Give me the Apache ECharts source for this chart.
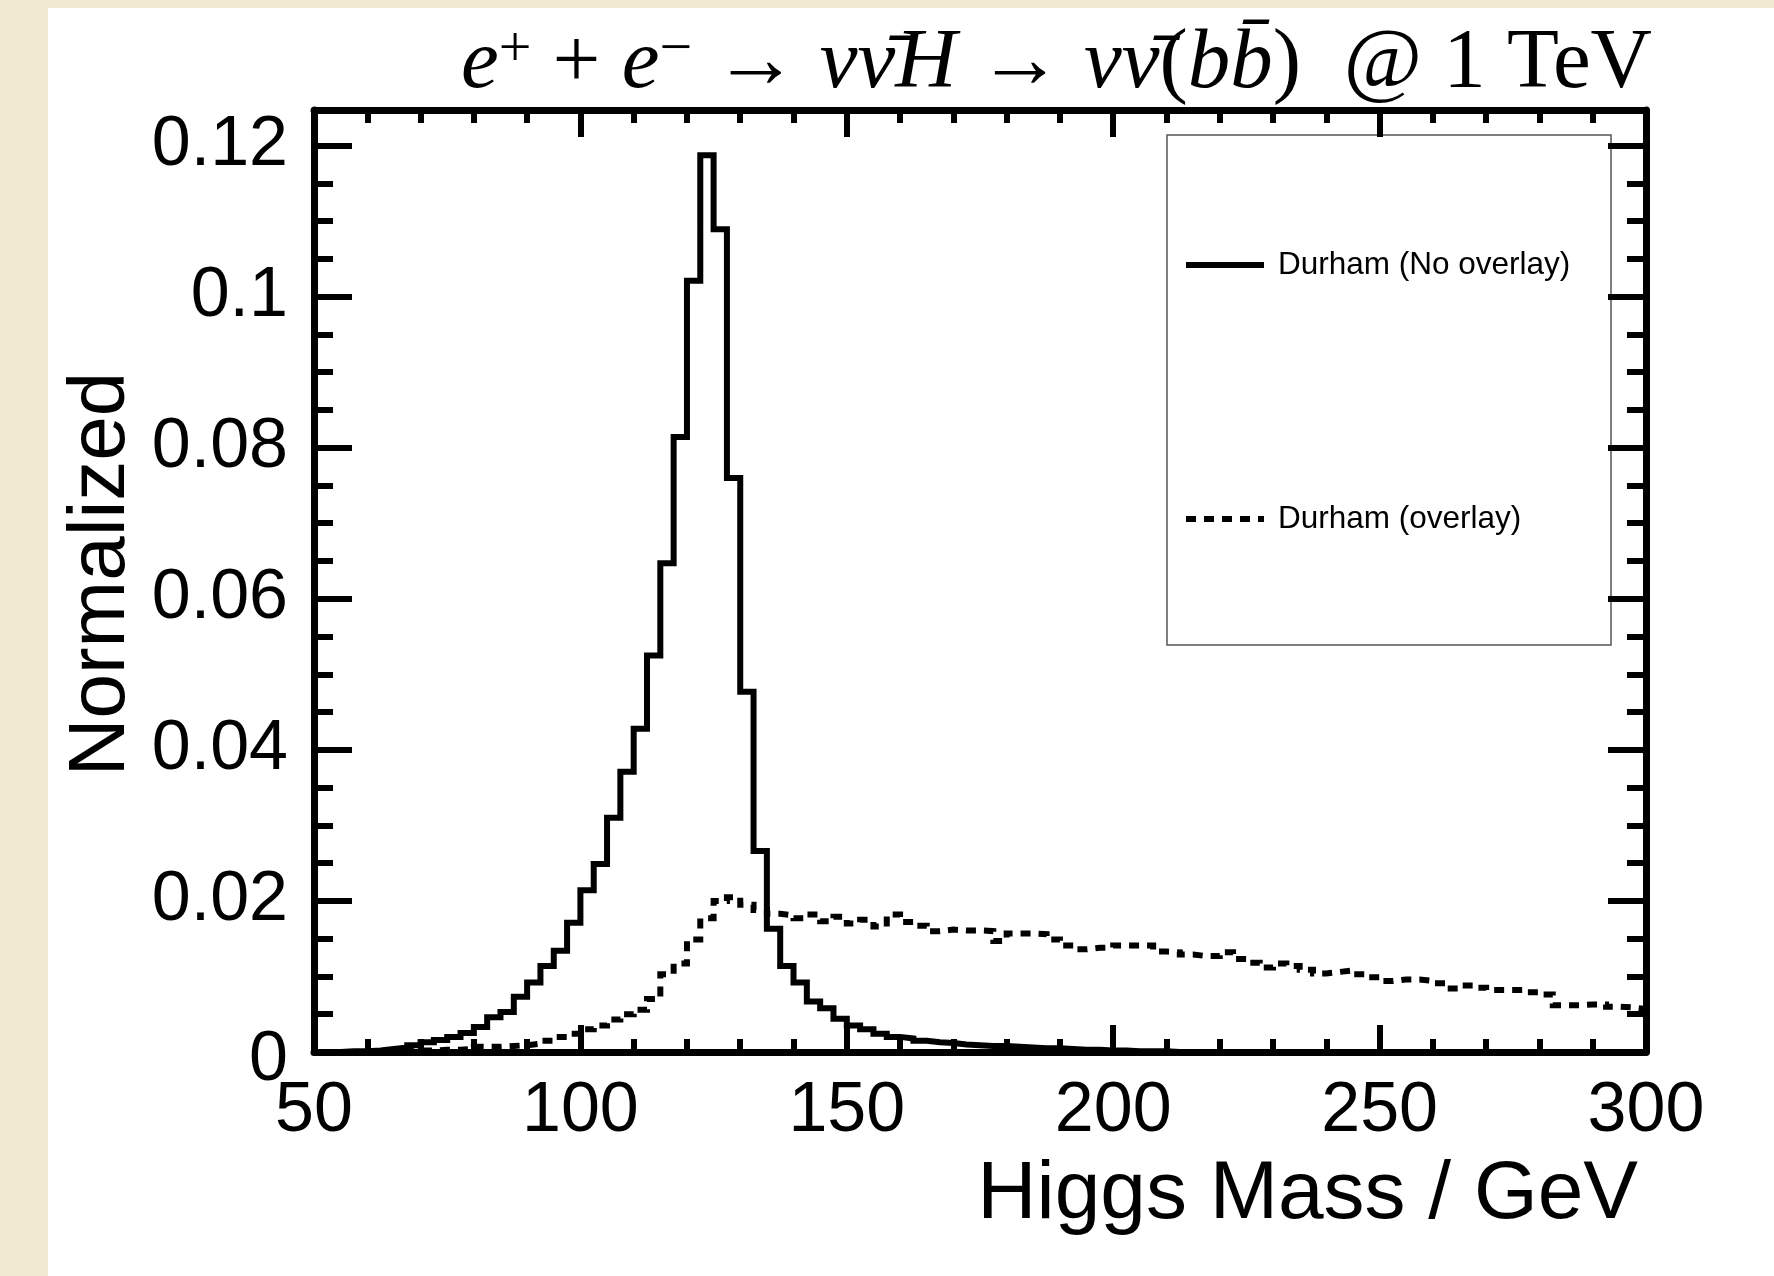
<!DOCTYPE html>
<html>
<head>
<meta charset="utf-8">
<script src="https://cdn.jsdelivr.net/npm/echarts@6/dist/echarts.min.js"></script>
<style>
html,body{margin:0;padding:0;background:#fff;}
#c{width:1774px;height:1276px;}
</style>
</head>
<body>
<div id="c"></div>
<script>
// ---- data ----
const BIN_MIN = 50;          // GeV, lower edge of first bin
const BIN_WIDTH = 2.5;       // GeV
const seriesNames = ['Durham (No overlay)', 'Durham (overlay)'];
// bin contents, bins from 50 to 300 GeV
const noOverlay = [
  0.0000, 0.0000, 0.0001, 0.0001, 0.0002, 0.0004, 0.0006, 0.0009, 0.0013, 0.0016,
  0.0020, 0.0025, 0.0033, 0.0046, 0.0053, 0.0073, 0.0092, 0.0114, 0.0134, 0.0171,
  0.0214, 0.0249, 0.0310, 0.0371, 0.0428, 0.0525, 0.0647, 0.0814, 0.1021, 0.1187,
  0.1089, 0.0760, 0.0477, 0.0266, 0.0163, 0.0114, 0.0092, 0.0067, 0.0058, 0.0044,
  0.0035, 0.0030, 0.0024, 0.0020, 0.0018, 0.0015, 0.0013, 0.0012, 0.0010, 0.0009,
  0.0008, 0.0008, 0.0007, 0.0006, 0.0005, 0.0005, 0.0004, 0.0003, 0.0003, 0.0002,
  0.0002, 0.0001, 0.0001, 0.0001, 0.0000, 0.0000, 0.0000, 0.0000, 0.0000, 0.0000,
  0.0000, 0.0000, 0.0000, 0.0000, 0.0000, 0.0000, 0.0000, 0.0000, 0.0000, 0.0000,
  0.0000, 0.0000, 0.0000, 0.0000, 0.0000, 0.0000, 0.0000, 0.0000, 0.0000, 0.0000,
  0.0000, 0.0000, 0.0000, 0.0000, 0.0000, 0.0000, 0.0000, 0.0000, 0.0000, 0.0000
];
const overlay = [
  0.0000, 0.0000, 0.0000, 0.0000, 0.0001, 0.0001, 0.0001, 0.0002, 0.0002, 0.0003,
  0.0003, 0.0004, 0.0007, 0.0007, 0.0008, 0.0009, 0.0011, 0.0015, 0.0020, 0.0024,
  0.0030, 0.0035, 0.0043, 0.0050, 0.0056, 0.0070, 0.0103, 0.0117, 0.0149, 0.0177,
  0.0200, 0.0205, 0.0195, 0.0188, 0.0183, 0.0181, 0.0177, 0.0182, 0.0173, 0.0179,
  0.0170, 0.0175, 0.0166, 0.0182, 0.0172, 0.0167, 0.0160, 0.0162, 0.0161, 0.0161,
  0.0160, 0.0147, 0.0157, 0.0157, 0.0156, 0.0149, 0.0141, 0.0136, 0.0138, 0.0138,
  0.0141, 0.0141, 0.0141, 0.0133, 0.0132, 0.0129, 0.0127, 0.0127, 0.0132, 0.0123,
  0.0118, 0.0112, 0.0117, 0.0114, 0.0109, 0.0104, 0.0106, 0.0108, 0.0103, 0.0099,
  0.0094, 0.0096, 0.0096, 0.0094, 0.0091, 0.0084, 0.0088, 0.0085, 0.0082, 0.0082,
  0.0082, 0.0079, 0.0076, 0.0062, 0.0062, 0.0063, 0.0063, 0.0060, 0.0059, 0.0057
];
const xTickValues = [50, 100, 150, 200, 250, 300];
const yTickLabels = ['0', '0.02', '0.04', '0.06', '0.08', '0.1', '0.12'];
const X_MIN = 50, X_MAX = 300, X_STEP = 50;
const Y_MIN = 0, Y_MAX = 0.1247, Y_STEP = 0.02, Y_MINOR_STEP = 0.005;
const titleParts = ['e', '+', '+', 'e', '−', '→', 'νν̄H', '→', 'νν̄', '(', 'bb̄', ')', '@ 1 TeV'];
const xTitle = 'Higgs Mass / GeV';
const yTitle = 'Normalized';

// ---- build ----
const edges = [];
for (let i = 0; i <= noOverlay.length; i++) edges.push(BIN_MIN + BIN_WIDTH * i);
function stepData(vals) {
  const d = vals.map((v, i) => [edges[i], v]);
  d.push([edges[vals.length], vals[vals.length - 1]]);
  return d;
}

const SANS = 'Liberation Sans, Arial, Helvetica, sans-serif';
const SERIF = 'Liberation Serif, Times New Roman, serif';
const BLACK = '#000';
const frame = { color: BLACK, width: 7 };
const tickStyle = { color: BLACK, width: 6 };

function yLabel(v) {
  if (Math.abs(v) < 1e-12) return '{z|' + yTickLabels[0] + '}';
  const k = Math.round(v / Y_STEP);
  if (Math.abs(v - k * Y_STEP) > 1e-9) return '';
  return yTickLabels[k] || '';
}

function xAxisDef(pos, showLabel) {
  return {
    type: 'value', position: pos, min: X_MIN, max: X_MAX, interval: X_STEP,
    axisLine: { show: true, onZero: false, lineStyle: frame },
    axisTick: { show: true, inside: true, length: 27, lineStyle: tickStyle },
    minorTick: { show: true, splitNumber: 5, length: 13, lineStyle: tickStyle },
    splitLine: { show: false }, minorSplitLine: { show: false },
    axisLabel: {
      show: showLabel, margin: 25, color: BLACK, fontFamily: SANS, fontSize: 70,
      formatter: v => (xTickValues.indexOf(v) >= 0 ? String(v) : '')
    },
    z: 6
  };
}
function yAxisDef(pos, major, showLabel) {
  return {
    type: 'value', position: pos, min: Y_MIN, max: Y_MAX,
    interval: major ? Y_STEP : Y_MINOR_STEP,
    axisLine: { show: major, onZero: false, lineStyle: frame },
    axisTick: { show: true, inside: true, length: major ? 38 : 19, lineStyle: tickStyle },
    splitLine: { show: false },
    axisLabel: {
      show: showLabel, margin: 26, color: BLACK, fontFamily: SANS, fontSize: 70,
      formatter: yLabel,
      rich: { z: { padding: [18, 0, 0, 0], fontFamily: SANS, fontSize: 70, color: BLACK } }
    },
    z: 6
  };
}

const chart = echarts.init(document.getElementById('c'), null, { renderer: 'canvas', width: 1774, height: 1276 });

const titleRich = {
  i: { fontFamily: SERIF, fontStyle: 'italic', fontSize: 85, color: BLACK },
  r: { fontFamily: SERIF, fontSize: 85, color: BLACK },
  s: { fontFamily: SERIF, fontSize: 58, color: BLACK, verticalAlign: 'top' }
};
const p = titleParts;
const titleText =
  '{i|' + p[0] + '}{s|' + p[1] + '}{r| ' + p[2] + ' }{i|' + p[3] + '}{s|' + p[4] + '}{r| ' + p[5] + ' }' +
  '{i|' + p[6] + '}{r| ' + p[7] + ' }{i|' + p[8] + '}{r|' + p[9] + '}{i|' + p[10] + '}{r|' + p[11] + '  ' + p[12] + '}';

chart.setOption({
  animation: false,
  backgroundColor: '#f2e9d2',
  grid: { left: 314, right: 128, top: 110, bottom: 224, containLabel: false },
  xAxis: [xAxisDef('bottom', true), xAxisDef('top', false)],
  yAxis: [
    yAxisDef('left', true, true),
    yAxisDef('left', false, false),
    yAxisDef('right', true, false),
    yAxisDef('right', false, false)
  ],
  legend: {
    orient: 'vertical', left: 1178, top: 244,
    itemWidth: 78, itemHeight: 36, itemGap: 222,
    selectedMode: false,
    textStyle: { fontFamily: SANS, fontSize: 31.5, color: BLACK, padding: [0, 0, 0, 9] },
    lineStyle: { width: 6 },
    itemStyle: { opacity: 0 },
    data: seriesNames.map(n => ({ name: n })),
    z: 8
  },
  graphic: [
    { type: 'rect', z: -20, silent: true, shape: { x: 48, y: 8, width: 1774 - 48, height: 1276 - 8 }, style: { fill: '#fff' } },
    { type: 'rect', z: 1, silent: true, shape: { x: 1167, y: 135, width: 444, height: 510 }, style: { fill: '#fff', stroke: '#555', lineWidth: 1.5 } },
    { type: 'text', z: 5, silent: true, x: 1652, y: 22,
      style: { text: titleText, rich: titleRich, textAlign: 'right', textVerticalAlign: 'top', fill: BLACK } },
    { type: 'text', z: 5, silent: true, x: 1638, y: 1195,
      style: { text: xTitle, fontFamily: SANS, fontSize: 82, fill: BLACK, textAlign: 'right', textVerticalAlign: 'middle' } },
    { type: 'text', z: 5, silent: true, x: 102, y: 574, rotation: Math.PI / 2,
      style: { text: yTitle, fontFamily: SANS, fontSize: 80, fill: BLACK, textAlign: 'center', textVerticalAlign: 'middle' } }
  ],
  series: [
    { name: seriesNames[0], type: 'line', step: 'end', data: stepData(noOverlay), symbol: 'none', showSymbol: false,
      xAxisIndex: 0, yAxisIndex: 0, clip: true, silent: true, z: 3,
      lineStyle: { color: BLACK, width: 6, join: 'miter', cap: 'butt' }, itemStyle: { color: BLACK } },
    { name: seriesNames[1], type: 'line', step: 'end', data: stepData(overlay), symbol: 'none', showSymbol: false,
      xAxisIndex: 0, yAxisIndex: 0, clip: true, silent: true, z: 3,
      lineStyle: { color: BLACK, width: 6, type: [10, 8], join: 'miter', cap: 'butt' }, itemStyle: { color: BLACK } }
  ]
});
</script>
</body>
</html>
